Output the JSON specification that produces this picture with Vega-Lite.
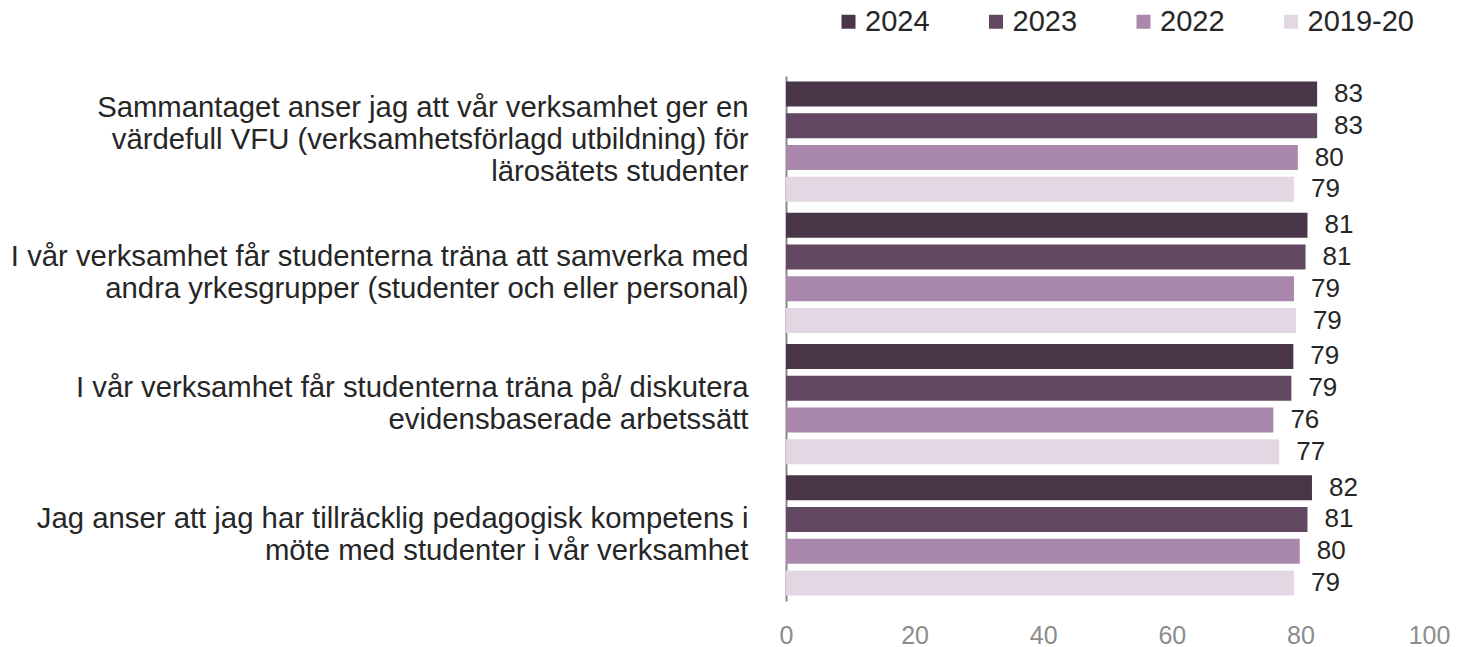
{
  "$schema": "https://vega.github.io/schema/vega-lite/v6.json",
  "width": 643,
  "height": 525,
  "autosize": {"type": "none"},
  "padding": {"left": 786, "top": 76, "right": 28, "bottom": 46},
  "background": "white",
  "config": {"view": {"stroke": null}, "font": "Liberation Sans"},
  "data": {
    "values": [
      {"item": "Sammantaget anser jag att vår verksamhet ger en|värdefull VFU (verksamhetsförlagd utbildning) för|lärosätets studenter", "year": "2024", "value": 82.6},
      {"item": "Sammantaget anser jag att vår verksamhet ger en|värdefull VFU (verksamhetsförlagd utbildning) för|lärosätets studenter", "year": "2023", "value": 82.6},
      {"item": "Sammantaget anser jag att vår verksamhet ger en|värdefull VFU (verksamhetsförlagd utbildning) för|lärosätets studenter", "year": "2022", "value": 79.6},
      {"item": "Sammantaget anser jag att vår verksamhet ger en|värdefull VFU (verksamhetsförlagd utbildning) för|lärosätets studenter", "year": "2019-20", "value": 79.0},
      {"item": "I vår verksamhet får studenterna träna att samverka med|andra yrkesgrupper (studenter och eller personal)", "year": "2024", "value": 81.1},
      {"item": "I vår verksamhet får studenterna träna att samverka med|andra yrkesgrupper (studenter och eller personal)", "year": "2023", "value": 80.8},
      {"item": "I vår verksamhet får studenterna träna att samverka med|andra yrkesgrupper (studenter och eller personal)", "year": "2022", "value": 79.0},
      {"item": "I vår verksamhet får studenterna träna att samverka med|andra yrkesgrupper (studenter och eller personal)", "year": "2019-20", "value": 79.3},
      {"item": "I vår verksamhet får studenterna träna på/ diskutera|evidensbaserade arbetssätt", "year": "2024", "value": 78.9},
      {"item": "I vår verksamhet får studenterna träna på/ diskutera|evidensbaserade arbetssätt", "year": "2023", "value": 78.6},
      {"item": "I vår verksamhet får studenterna träna på/ diskutera|evidensbaserade arbetssätt", "year": "2022", "value": 75.8},
      {"item": "I vår verksamhet får studenterna träna på/ diskutera|evidensbaserade arbetssätt", "year": "2019-20", "value": 76.7},
      {"item": "Jag anser att jag har tillräcklig pedagogisk kompetens i|möte med studenter i vår verksamhet", "year": "2024", "value": 81.8},
      {"item": "Jag anser att jag har tillräcklig pedagogisk kompetens i|möte med studenter i vår verksamhet", "year": "2023", "value": 81.1},
      {"item": "Jag anser att jag har tillräcklig pedagogisk kompetens i|möte med studenter i vår verksamhet", "year": "2022", "value": 79.9},
      {"item": "Jag anser att jag har tillräcklig pedagogisk kompetens i|möte med studenter i vår verksamhet", "year": "2019-20", "value": 79.0}
    ]
  },
  "encoding": {
    "y": {
      "field": "item",
      "type": "nominal",
      "sort": null,
      "scale": {"paddingInner": 0, "paddingOuter": 0},
      "axis": {
        "title": null,
        "domainColor": "#898989",
        "domainWidth": 2,
        "ticks": false,
        "labelFontSize": 29.3,
        "labelColor": "#262626",
        "labelPadding": 38,
        "labelLimit": 900,
        "labelLineHeight": 32,
        "labelExpr": "split(datum.label, '|')",
        "labelOffset": {
          "condition": {"test": "indexof(datum.value, 'Sammantaget') == 0", "value": -34},
          "value": -16
        }
      }
    },
    "yOffset": {
      "field": "year",
      "type": "nominal",
      "sort": ["2024", "2023", "2022", "2019-20"],
      "scale": {"paddingInner": 0.21, "paddingOuter": 0.17}
    }
  },
  "layer": [
    {
      "mark": {"type": "bar"},
      "encoding": {
        "x": {
          "field": "value",
          "type": "quantitative",
          "scale": {"domain": [0, 100], "nice": false},
          "axis": {
            "title": null,
            "values": [0, 20, 40, 60, 80, 100],
            "domain": false,
            "ticks": false,
            "grid": false,
            "labelFlush": false,
            "labelFontSize": 25,
            "labelColor": "#8c8c8c",
            "labelPadding": 22
          }
        },
        "color": {
          "field": "year",
          "type": "nominal",
          "sort": ["2024", "2023", "2022", "2019-20"],
          "scale": {
            "domain": ["2024", "2023", "2022", "2019-20"],
            "range": ["#4b3549", "#624862", "#a988ab", "#e3d7e4"]
          },
          "legend": {
            "orient": "none",
            "legendX": 48,
            "legendY": -69,
            "direction": "horizontal",
            "columns": 4,
            "title": null,
            "symbolType": "square",
            "symbolSize": 196,
            "symbolStrokeWidth": 0,
            "symbolOpacity": 1,
            "labelFontSize": 29,
            "labelColor": "#262626",
            "labelOffset": 2,
            "columnPadding": 9.5,
            "gridAlign": "all"
          }
        }
      }
    },
    {
      "mark": {"type": "text", "align": "left", "baseline": "middle", "dx": 17, "fontSize": 26, "color": "#262626"},
      "encoding": {
        "x": {"field": "value", "type": "quantitative"},
        "text": {"field": "value", "type": "quantitative", "format": ".0f"}
      }
    }
  ]
}
